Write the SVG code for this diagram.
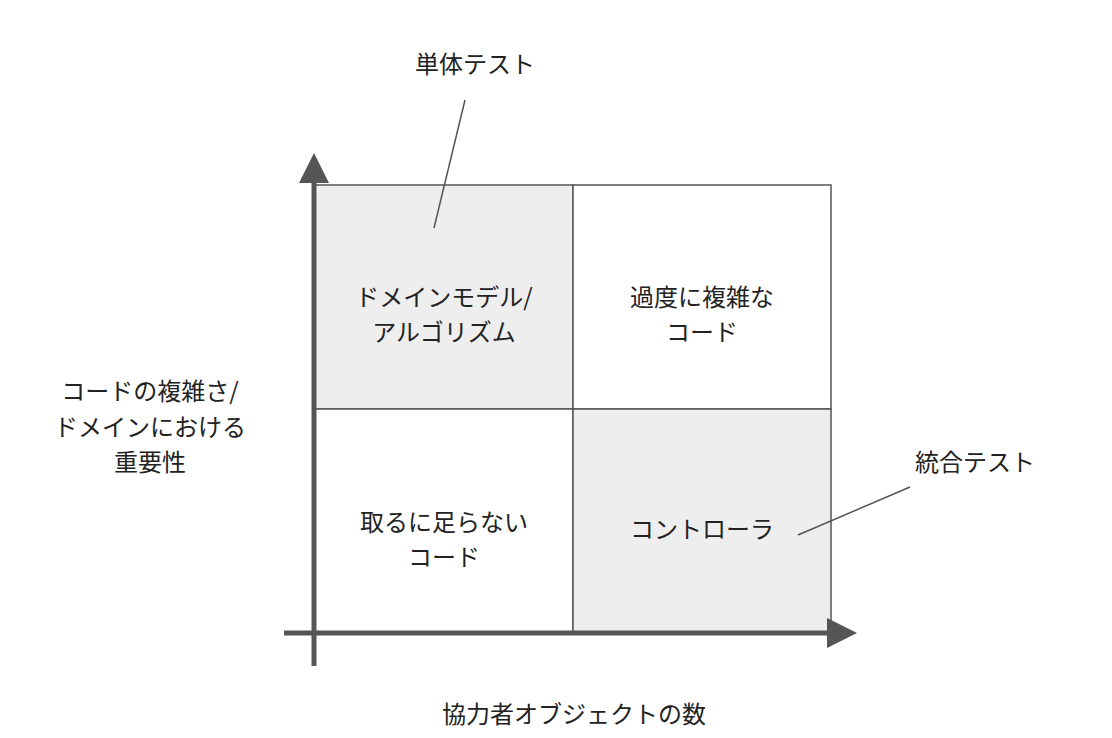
<svg xmlns="http://www.w3.org/2000/svg" width="1112" height="738" viewBox="0 0 1112 738">
<style>
text{font-family:"Noto Sans CJK JP","Noto Sans",sans-serif;font-size:24px;fill:#222;text-anchor:middle}
.cell{stroke:#555;stroke-width:1.5}
.axis{stroke:#555;stroke-width:5;fill:none}
.lead{stroke:#555;stroke-width:1.5}
</style>
<defs>
<marker id="ah" markerWidth="6" markerHeight="6" refX="1" refY="3" orient="auto" markerUnits="strokeWidth"><path d="M0,0 L6,3 L0,6 z" fill="#555"/></marker>
</defs>
<rect width="1112" height="738" fill="#fff"/>
<g id="cell-tl"><rect class="cell" x="314" y="185" width="259" height="224" fill="#eeeeee"/><text x="444" y="306">ドメインモデル/</text><text x="444" y="341">アルゴリズム</text></g>
<g id="cell-tr"><rect class="cell" x="573" y="185" width="258" height="224" fill="#fff"/><text x="702" y="306">過度に複雑な</text><text x="702" y="341">コード</text></g>
<g id="cell-bl"><rect class="cell" x="314" y="409" width="259" height="224" fill="#fff"/><text x="444" y="531">取るに足らない</text><text x="444" y="566">コード</text></g>
<g id="cell-br"><rect class="cell" x="573" y="409" width="258" height="224" fill="#eeeeee"/><text x="702" y="538">コントローラ</text></g>
<g id="connectors">
<line class="axis" x1="314" y1="666" x2="314" y2="178" marker-end="url(#ah)"/>
<line class="axis" x1="284" y1="633" x2="832" y2="633" marker-end="url(#ah)"/>
<line class="lead" x1="465" y1="100" x2="434" y2="228"/>
<line class="lead" x1="910" y1="487" x2="798" y2="535"/>
</g>
<g id="label-unit"><text x="475" y="73">単体テスト</text></g>
<g id="label-integ"><text x="975" y="471">統合テスト</text></g>
<g id="label-y"><text x="150" y="400">コードの複雑さ/</text><text x="150" y="436">ドメインにおける</text><text x="150" y="471">重要性</text></g>
<g id="label-x"><text x="574" y="723">協力者オブジェクトの数</text></g>
</svg>
